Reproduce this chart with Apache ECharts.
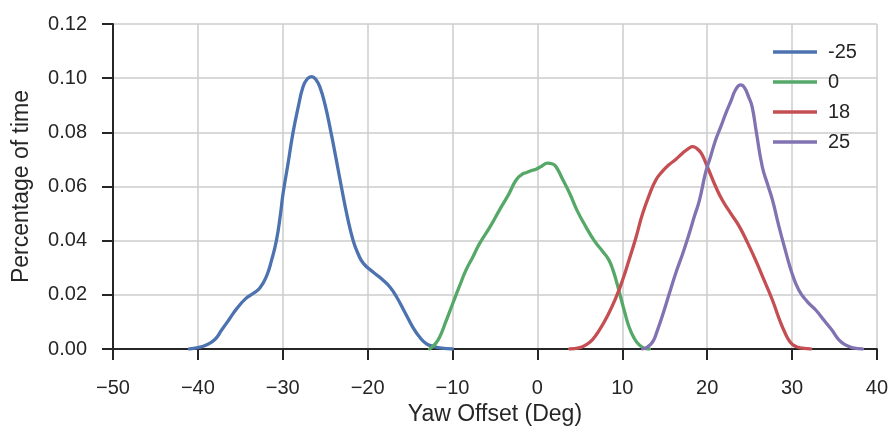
<!DOCTYPE html>
<html>
<head>
<meta charset="utf-8">
<script src="https://cdn.jsdelivr.net/npm/echarts@6/dist/echarts.min.js"></script>
<style>html,body{margin:0;padding:0;background:#fff}#c{width:891px;height:431px}</style>
</head>
<body>
<div id="c"></div>
<script>
const seriesNames = ['-25', '0', '18', '25'];
const seriesColors = ['#4C72B0', '#55A868', '#C44E52', '#8172B2'];
const xTicks = [-50, -40, -30, -20, -10, 0, 10, 20, 30, 40];
const yTicks = [0, 0.02, 0.04, 0.06, 0.08, 0.10, 0.12];

const dataM25 = [[-41,0],[-40,0.0005],[-39,0.0015],[-38,0.0035],[-37.2,0.007],[-36.3,0.011],[-35.4,0.015],[-34.4,0.0185],[-33.5,0.0205],[-32.7,0.0225],[-31.9,0.027],[-31.3,0.033],[-30.75,0.040],[-30.3,0.049],[-29.96,0.0575],[-29.4,0.068],[-28.8,0.0797],[-28.2,0.089],[-27.6,0.0969],[-27.1,0.0998],[-26.6,0.1006],[-26.1,0.0995],[-25.6,0.0965],[-25,0.090],[-24.3,0.0797],[-23.7,0.070],[-23.1,0.060],[-22.4,0.049],[-21.7,0.040],[-21.1,0.035],[-20.5,0.0316],[-19.4,0.0285],[-18.2,0.0255],[-17.4,0.023],[-16.6,0.0193],[-15.6,0.0135],[-14.7,0.0082],[-13.9,0.0045],[-13.1,0.002],[-12.3,0.001],[-11.5,0.0004],[-10,0]];
const data0 = [[-12.7,0],[-12,0.002],[-11.5,0.0045],[-10.8,0.010],[-9.96,0.0169],[-9.2,0.023],[-8.4,0.0292],[-7.6,0.034],[-6.8,0.039],[-5.6,0.045],[-4.47,0.0513],[-3.4,0.057],[-2.5,0.0624],[-1.8,0.0645],[-1.33,0.0651],[-0.6,0.066],[-0.16,0.0664],[0.5,0.0675],[1.2,0.0686],[1.8,0.0683],[2.2,0.0673],[3,0.0625],[3.8,0.0575],[4.7,0.051],[5.7,0.0452],[6.7,0.040],[7.7,0.036],[8.4,0.033],[8.9,0.0292],[9.4,0.024],[9.8,0.0193],[10.3,0.0135],[10.8,0.0082],[11.4,0.004],[12.0,0.0015],[12.6,0.0003],[13.2,0]];
const data18 = [[3.8,0],[5,0.0005],[5.7,0.0015],[6.5,0.0035],[7.3,0.007],[8.3,0.0125],[9.3,0.0193],[10.1,0.026],[10.8,0.0329],[11.6,0.041],[12.4,0.050],[13.2,0.057],[13.96,0.0624],[14.7,0.0655],[15.5,0.068],[16.3,0.070],[17.1,0.0723],[17.8,0.074],[18.3,0.0747],[18.8,0.074],[19.3,0.0723],[19.8,0.069],[20.2,0.066],[21,0.060],[21.8,0.0549],[22.8,0.050],[23.8,0.0452],[24.8,0.039],[25.7,0.0329],[26.7,0.0255],[27.7,0.018],[28.5,0.011],[29.2,0.0058],[29.8,0.0025],[30.4,0.001],[31.2,0.0003],[32.2,0]];
const data25 = [[12.4,0],[13,0.0008],[13.6,0.0027],[14.1,0.0065],[14.7,0.012],[15.5,0.020],[16.3,0.028],[17.1,0.035],[17.9,0.0427],[18.5,0.049],[19.1,0.055],[19.8,0.0649],[20.4,0.071],[21.0,0.0772],[21.6,0.082],[22.2,0.087],[22.8,0.0915],[23.4,0.096],[23.96,0.0975],[24.4,0.0965],[24.9,0.093],[25.3,0.0895],[25.8,0.080],[26.5,0.0673],[27.1,0.061],[27.7,0.055],[28.4,0.046],[29.2,0.0366],[30,0.028],[30.8,0.0218],[31.8,0.0175],[32.8,0.0144],[33.8,0.0105],[34.7,0.007],[35.5,0.0035],[36.3,0.0015],[37.2,0.0004],[38.3,0]];
const allData = [dataM25, data0, data18, data25];

const FONT = '"Liberation Sans", Arial, sans-serif';
const TXT = '#262626';
const chart = echarts.init(document.getElementById('c'), null, {renderer: 'canvas'});
chart.setOption({
  animation: false,
  backgroundColor: '#ffffff',
  textStyle: {fontFamily: FONT, color: TXT},
  grid: {left: 113, right: 13, top: 24, bottom: 82, containLabel: false},
  legend: {
    left: 768, top: 37, orient: 'vertical',
    icon: 'rect', itemWidth: 44, itemHeight: 3.3, itemGap: 10,
    textStyle: {fontFamily: FONT, fontSize: 20, color: TXT, lineHeight: 20, padding: [0, 0, 0, 6]},
    data: seriesNames
  },
  xAxis: {
    type: 'value', min: xTicks[0], max: xTicks[xTicks.length - 1], interval: 10,
    name: 'Yaw Offset (Deg)', nameLocation: 'middle', nameGap: 50,
    nameTextStyle: {fontFamily: FONT, fontSize: 23, color: TXT},
    axisLine: {show: true, onZero: false, lineStyle: {color: TXT, width: 2}},
    axisTick: {show: true, length: 11, lineStyle: {color: TXT, width: 2}},
    axisLabel: {fontFamily: FONT, fontSize: 20, color: TXT, margin: 29,
      formatter: v => (v < 0 ? '\u2212' + Math.abs(v) : String(v))},
    splitLine: {show: true, lineStyle: {color: '#cccccc', width: 1.5}}
  },
  yAxis: {
    type: 'value', min: yTicks[0], max: yTicks[yTicks.length - 1], interval: 0.02,
    name: 'Percentage of time', nameLocation: 'middle', nameGap: 80,
    nameTextStyle: {fontFamily: FONT, fontSize: 23, color: TXT},
    axisLine: {show: true, onZero: false, lineStyle: {color: TXT, width: 2}},
    axisTick: {show: true, length: 11, lineStyle: {color: TXT, width: 2}},
    axisLabel: {fontFamily: FONT, fontSize: 20, color: TXT, margin: 26,
      formatter: v => v.toFixed(2)},
    splitLine: {show: true, lineStyle: {color: '#cccccc', width: 1.5}}
  },
  series: seriesNames.map((n, i) => ({
    name: n, type: 'line', data: allData[i], smooth: 0.5,
    showSymbol: false, symbol: 'none',
    itemStyle: {color: seriesColors[i]},
    lineStyle: {color: seriesColors[i], width: 3.3, cap: 'round', join: 'round'},
    z: 3
  }))
});
</script>
</body>
</html>
